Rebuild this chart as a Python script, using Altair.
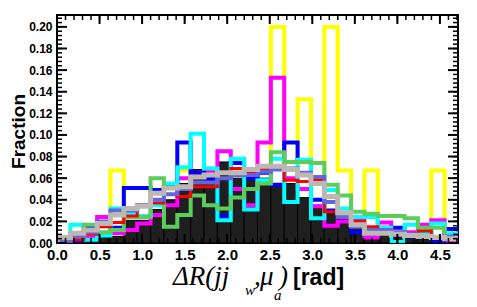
import altair as alt
import pandas as pd

# ---------------- data (fractions per bin, 30 bins of pi/20 from 0 to 1.5*pi) ----------------
N_BINS = 30
X_MAX = 4.712389
edges = [i * X_MAX / N_BINS for i in range(N_BINS + 1)]

yellow = [0, 0, 0, 0, 0.067, 0, 0, 0, 0, 0.067, 0, 0, 0, 0, 0, 0, 0.200, 0, 0.133, 0,
          0.200, 0.067, 0, 0.067, 0, 0, 0, 0, 0.067, 0]
black_fill = [0, 0, 0.002, 0.006, 0.006, 0.021, 0.021, 0.031, 0.040, 0.055, 0.068, 0.070, 0.075, 0.060, 0.062,
              0.060, 0.054, 0.055, 0.042, 0.035, 0.030, 0.022, 0.014, 0.010, 0.008, 0.006, 0.005, 0.004, 0.004, 0.003]
magenta = [0, 0.003, 0.005, 0.024, 0.009, 0.012, 0.018, 0.026, 0.035, 0.060, 0.065, 0.066, 0.085, 0.050, 0.035,
           0.093, 0.153, 0.060, 0.050, 0.034, 0.016, 0.020, 0.023, 0.005, 0.019, 0.008, 0.010, 0.017, 0.021, 0.002]
blue = [0.001, 0.002, 0.014, 0.018, 0.014, 0.051, 0.051, 0.049, 0.052, 0.093, 0.065, 0.060, 0.025, 0.074, 0.060,
        0.065, 0.054, 0.093, 0.075, 0.040, 0.030, 0.025, 0.010, 0.012, 0.014, 0.014, 0.006, 0.010, 0.002, 0.013]
cyan = [0.001, 0.017, 0.003, 0.007, 0.032, 0.028, 0.025, 0.035, 0.055, 0.070, 0.101, 0.069, 0.021, 0.078, 0.031,
        0.058, 0.078, 0.038, 0.077, 0.023, 0.049, 0.032, 0.024, 0.024, 0.014, 0.001, 0.017, 0.009, 0.018, 0.009]
green = [0.002, 0.005, 0.017, 0.010, 0.012, 0.024, 0.024, 0.060, 0.015, 0.026, 0.044, 0.035, 0.032, 0.042, 0.050,
         0.055, 0.084, 0.075, 0.075, 0.074, 0.054, 0.044, 0.029, 0.027, 0.025, 0.025, 0.023, 0.014, 0.014, 0.004]
red = [0, 0.003, 0.008, 0.015, 0.019, 0.025, 0.035, 0.037, 0.051, 0.043, 0.052, 0.052, 0.060, 0.069, 0.065,
       0.069, 0.069, 0.058, 0.057, 0.058, 0.029, 0.028, 0.020, 0.015, 0.010, 0.010, 0.008, 0.011, 0.006, 0.005]
slate = [0.002, 0.006, 0.010, 0.020, 0.030, 0.030, 0.035, 0.040, 0.045, 0.050, 0.056, 0.056, 0.060, 0.063, 0.063,
         0.066, 0.068, 0.069, 0.065, 0.061, 0.038, 0.024, 0.015, 0.012, 0.012, 0.010, 0.008, 0.006, 0.005, 0.006]
gray = [0.005, 0.009, 0.012, 0.018, 0.026, 0.032, 0.034, 0.046, 0.051, 0.052, 0.061, 0.063, 0.065, 0.065, 0.068,
        0.071, 0.071, 0.068, 0.063, 0.055, 0.043, 0.028, 0.017, 0.009, 0.009, 0.008, 0.007, 0.006, 0.005, 0.004]

x_major = [0, 0.5, 1.0, 1.5, 2.0, 2.5, 3.0, 3.5, 4.0, 4.5]
x_minor = [round(i * 0.1, 1) for i in range(48)]
y_major = [round(i * 0.02, 2) for i in range(11)]
y_minor = [round(i * 0.004, 3) for i in range(53)]

W, H = 401, 228
Y_MAX = 0.211

xs = alt.Scale(domain=[0, X_MAX], nice=False, zero=False)
ys = alt.Scale(domain=[0, Y_MAX], nice=False, zero=False)

FONT = "Liberation Sans"
SERIF = "Liberation Serif"

label_x = alt.Axis(orient="bottom", values=x_major, format=".1f", ticks=False, domain=False, grid=False,
                   labelFont=FONT, labelFontWeight="bold", labelFontSize=15, labelPadding=4,
                   labelFlush=False, labelOverlap=False, labelColor="black", title=None)
label_y = alt.Axis(orient="left", values=y_major, format=".2f", ticks=False, domain=False, grid=False,
                   labelFont=FONT, labelFontWeight="bold", labelFontSize=12, labelPadding=5,
                   labelFlush=False, labelOverlap=False,
                   labelColor="black", title="Fraction", titleFont=FONT, titleFontWeight="bold",
                   titleFontSize=19, titleColor="black", titleAngle=270, titleX=-29, titleY=116,
                   titleAlign="center", titleBaseline="bottom")


def steps(vals):
    px, py = [edges[0]], [0.0]
    for i, v in enumerate(vals):
        px += [edges[i], edges[i + 1]]
        py += [v, v]
    px.append(edges[-1])
    py.append(0.0)
    return pd.DataFrame({"x": px, "y": py, "o": list(range(len(px)))})


def bars(vals):
    return pd.DataFrame({"lo": edges[:-1], "hi": edges[1:], "v": vals})


def line_layer(vals, color, width):
    return alt.Chart(steps(vals)).mark_line(
        color=color, strokeWidth=width, strokeJoin="miter", strokeCap="square", clip=True
    ).encode(
        x=alt.X("x:Q", scale=xs, axis=label_x),
        y=alt.Y("y:Q", scale=ys, axis=label_y),
        order="o:Q",
    )


fill_layer = alt.Chart(bars(black_fill)).mark_rect(color="#1f1f1f", stroke="black", strokeWidth=1).encode(
    x=alt.X("lo:Q", scale=xs, axis=label_x),
    x2="hi:Q",
    y=alt.Y("v:Q", scale=ys, axis=label_y),
    y2=alt.datum(0),
)


# inward ticks on all four sides of the frame, placed through the shared scales
def yticks(vals, length, width, right=False):
    x0, x1 = (W - length, W) if right else (0, length)
    return alt.Chart(pd.DataFrame({"v": vals})).mark_rule(color="black", strokeWidth=width).encode(
        y=alt.Y("v:Q", scale=ys, axis=label_y), x=alt.value(x0), x2=alt.value(x1))


def xticks(vals, length, width, top=False):
    y0, y1 = (0, length) if top else (H - length, H)
    return alt.Chart(pd.DataFrame({"v": vals})).mark_rule(color="black", strokeWidth=width).encode(
        x=alt.X("v:Q", scale=xs, axis=label_x), y=alt.value(y0), y2=alt.value(y1))


tick_layers = [
    yticks(y_minor, 5, 1.5), yticks(y_major, 10, 2),
    yticks(y_minor, 5, 1.5, True), yticks(y_major, 10, 2, True),
    xticks(x_minor, 5, 1.5, True), xticks(x_major, 9, 2, True),
    xticks(x_minor, 5, 1.5), xticks(x_major, 9, 2),
]

layers = [
    line_layer(yellow, "#ffff00", 4),
    fill_layer,
    line_layer(magenta, "#ff00ff", 4),
    line_layer(blue, "#0000ff", 4),
    line_layer(cyan, "#00ffff", 4),
    line_layer(green, "#5ccc5c", 4),
    line_layer(red, "#ff0000", 3),
    line_layer(slate, "#6464dc", 4),
    line_layer(gray, "#bdb8b2", 5),
]


def txt(s, x, y, size, font, style="normal", weight="normal"):
    return alt.Chart(pd.DataFrame({"t": [s]})).mark_text(
        font=font, fontSize=size, fontStyle=style, fontWeight=weight, align="left",
        baseline="alphabetic", color="black"
    ).encode(text="t:N", x=alt.value(x), y=alt.value(y))


title_parts = [
    txt("ΔR(jj", 116, 270, 27, SERIF, "italic"),
    txt("w", 188, 280, 15, SERIF, "italic"),
    txt(",", 197, 270, 27, SERIF, "italic"),
    txt("μ", 203, 270, 27, SERIF, "italic"),
    txt("a", 217, 285, 15, SERIF, "italic"),
    txt(")", 222, 270, 27, SERIF, "italic"),
    txt("[rad]", 236, 270, 23, FONT, "normal", "bold"),
]

chart = alt.layer(*layers, *tick_layers, *title_parts).properties(
    width=W, height=H,
    autosize=alt.AutoSizeParams(type="none"),
    padding={"left": 49, "top": 7, "right": 10, "bottom": 64},
    background="white",
).configure_view(stroke="black", strokeWidth=2)

chart.save("out.html", embed_options={"renderer": "svg", "actions": False})
